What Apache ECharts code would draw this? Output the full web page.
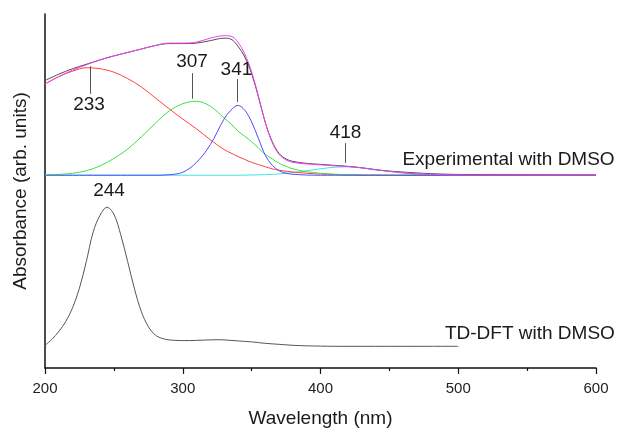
<!DOCTYPE html>
<html>
<head>
<meta charset="utf-8">
<script src="https://cdn.jsdelivr.net/npm/echarts@6/dist/echarts.min.js"></script>
<style>
  html, body { margin: 0; padding: 0; background: #fff; }
  #chart { width: 620px; height: 433px; }
</style>
</head>
<body>
<div id="chart"></div>
<script>
// wavelength grid (nm) of the experimental curves
var wl = [200,210,220,230,240,250,260,270,280,290,300,310,320,330,335,340,345,350,355,360,365,370,375,380,390,400,410,420,430,440,450,460,470,480,490,500,520,550,600];
// measured spectrum (offset upward) and its cumulative fit
var expData = [291.5,298,303.5,308,312.5,316.5,320,323.5,327,329,329,329.5,332,334.5,333.5,326.5,315.5,298.5,274.5,248.5,229.5,217.5,212,209.5,207.5,206.5,205.5,204.5,203,201,199.7,198.7,197.8,197.1,196.6,196.3,196,195.8,195.6];
var fitSum = [288,295.5,302,307.5,312.5,316.5,320,323.5,327,329.5,329.5,330.5,334.5,337,336.5,330.5,318.5,300.5,275.5,248.5,228.5,216.5,211,208.5,207,206,205.1,204.3,202.9,201.1,199.4,198,197,196.4,196,195.8,195.6,195.5,195.5];
// fitted peaks
var peak233 = [288,295.5,301,304.5,303.5,300,293.5,285,274,263,252.5,242.5,231.5,221.5,218,214.5,211.5,208.5,206.3,204,202,200.5,199.5,198.8,197.5,196.7,196.2,195.9,195.7,195.6,195.5,195.5,195.5,195.5,195.5,195.5,195.5,195.5,195.5];
var peak307 = [195.7,196.3,197.5,200,205,212.5,222,234.5,248,260.5,268,270.5,265.5,253.5,247.5,240.5,235,229.5,223,216.5,212,207.5,204.5,202,199,197.5,196.5,196,195.7,195.6,195.5,195.5,195.5,195.5,195.5,195.5,195.5,195.5,195.5];
var peak341 = [195.5,195.5,195.5,195.5,195.5,195.5,195.5,195.5,195.5,196,198.5,208.5,226.5,252.5,261.5,266.3,261.5,249.5,232.5,215.5,205.5,200,197.5,196.5,195.7,195.5,195.5,195.5,195.5,195.5,195.5,195.5,195.5,195.5,195.5,195.5,195.5,195.5,195.5];
var peak418 = [195.5,195.5,195.5,195.5,195.5,195.5,195.5,195.5,195.5,195.5,195.5,195.5,195.5,195.5,195.5,195.5,195.6,195.8,195.9,196.1,196.4,196.8,197.5,198.2,200,202,203.6,204,203.1,201.3,199.3,197.6,196.5,195.9,195.7,195.6,195.5,195.5,195.5];
// TD-DFT calculated spectrum
var wlCalc = [200,205,210,215,220,225,230,235,240,245,250,255,260,265,270,275,280,285,290,295,300,305,310,315,320,325,330,335,340,345,350,360,370,380,390,400,410,420,440,460,480,500];
var calcData = [23,29,37,47,61,81,108,138,155,163,156,135,108,80,57,42,33.5,30,28.5,28,27.8,27.8,28,28.3,28.5,28.7,28.5,28,27.5,27,26.5,25,24,23,22.5,22.2,22,22,22,22,22,22];
var xTicks = [200,300,400,500,600];

function pairs(xs, ys) {
  return xs.map(function (x, i) { return [x, ys[i]]; });
}

var FONT = 'Liberation Sans, Arial, sans-serif';
var chart = echarts.init(document.getElementById('chart'), null, {renderer: 'canvas'});

function line(name, xs, ys, color, extra) {
  var s = {
    name: name,
    type: 'line',
    data: pairs(xs, ys),
    smooth: 0.35,
    showSymbol: false,
    symbol: 'none',
    silent: true,
    lineStyle: {color: color, width: 1},
    z: 2
  };
  for (var k in extra) s[k] = extra[k];
  return s;
}

function tag(text, x, y) {
  return {
    coord: [x, y], value: text,
    symbol: 'circle', symbolSize: 0,
    label: {show: true, position: 'inside', formatter: text, fontSize: 19, color: '#1a1a1a', fontFamily: FONT}
  };
}

chart.setOption({
  animation: false,
  grid: {left: 45, right: 24, top: 14, bottom: 60},
  xAxis: {
    type: 'value',
    min: 200, max: 600, interval: 100,
    name: 'Wavelength (nm)',
    nameLocation: 'middle',
    nameGap: 41,
    nameTextStyle: {fontSize: 19, color: '#1a1a1a', fontFamily: FONT},
    axisLine: {show: true, lineStyle: {color: '#111', width: 1.5}},
    axisTick: {show: true, inside: false, length: 6, lineStyle: {color: '#111', width: 1.2}},
    minorTick: {show: true, splitNumber: 2, length: 3, lineStyle: {color: '#111', width: 1.2}},
    axisLabel: {fontSize: 15, color: '#222', margin: 13, fontFamily: FONT,
      formatter: function (v) { return xTicks.indexOf(v) >= 0 ? String(v) : ''; }},
    splitLine: {show: false}
  },
  yAxis: {
    type: 'value',
    min: 0, max: 359,
    name: 'Absorbance (arb. units)',
    nameLocation: 'middle',
    nameGap: 15,
    nameTextStyle: {fontSize: 19, color: '#1a1a1a', fontFamily: FONT},
    axisLine: {show: true, lineStyle: {color: '#111', width: 1.5}},
    axisTick: {show: false},
    axisLabel: {show: false},
    splitLine: {show: false}
  },
  series: [
    line('peak 418', wl, peak418, '#3fe3e3'),
    line('peak 233', wl, peak233, '#ff4040'),
    line('peak 307', wl, peak307, '#3ee03e'),
    line('peak 341', wl, peak341, '#4b4bff'),
    line('Experimental with DMSO', wl, expData, '#4d4d4d', {
      markLine: {
        silent: true, symbol: 'none', animation: false,
        label: {show: false},
        lineStyle: {color: '#555', width: 1, type: 'solid'},
        data: [
          [{coord: [232.7, 306]}, {coord: [232.7, 278]}],
          [{coord: [306.9, 299]}, {coord: [306.9, 273]}],
          [{coord: [339.9, 293]}, {coord: [339.9, 269.7]}],
          [{coord: [418.3, 228]}, {coord: [418.3, 208]}]
        ]
      },
      markPoint: {
        silent: true, animation: false,
        data: [
          tag('233', 232, 267),
          tag('307', 306.7, 310.5),
          tag('341', 339, 302.3),
          tag('418', 418.2, 239),
          tag('Experimental with DMSO', 536.5, 211)
        ]
      }
    }),
    line('fit', wl, fitSum, '#f23ef2', {z: 3}),
    line('TD-DFT with DMSO', wlCalc, calcData, '#555555', {
      markPoint: {
        silent: true, animation: false,
        data: [
          tag('244', 246.5, 180),
          tag('TD-DFT with DMSO', 552, 34.5)
        ]
      }
    })
  ]
});
</script>
</body>
</html>
